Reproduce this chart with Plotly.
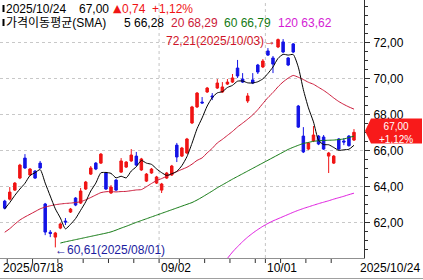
import plotly.graph_objects as go
import pandas as pd

# ---- data -----------------------------------------------------------------
dates = [d.strftime("%Y-%m-%d") for d in pd.bdate_range("2025-07-18", "2025-10-24")
         if d.strftime("%Y-%m-%d") != "2025-09-01"]

opens = [63.18, 63.29, 63.79, 64.46, 65.57, 64.63, 64.85, 65.29, 63.02, 61.45,
         61.18, 61.68, 62.07, 62.57, 63.35, 63.07, 63.85, 64.68, 65.29, 65.29,
         64.74, 63.63, 64.35, 64.79, 65.07, 65.41, 65.68, 64.91, 64.29, 64.74,
         64.18, 63.79, 64.46, 64.63, 66.29, 65.68, 65.85, 67.52, 68.41, 68.68,
         69.24, 69.02, 69.46, 69.24, 69.68, 69.79, 70.57, 69.96, 68.74, 69.91,
         70.74, 70.63, 71.52, 71.13, 71.74, 72.02, 71.13, 71.91, 68.46, 66.79,
         66.07, 66.52, 66.79, 66.74, 65.68, 65.29, 66.63, 66.52, 66.79, 66.57]
highs = [63.25, 63.96, 64.24, 65.25, 65.79, 65.02, 64.90, 65.41, 63.08, 61.57,
         61.47, 61.98, 62.24, 62.80, 63.40, 63.91, 64.30, 65.13, 65.35, 65.85,
         64.80, 64.07, 64.40, 65.57, 65.40, 66.07, 65.91, 65.58, 64.74, 65.02,
         64.58, 64.19, 64.80, 65.19, 66.41, 66.19, 66.69, 68.47, 69.24, 68.96,
         69.52, 69.18, 69.96, 69.79, 69.96, 70.24, 71.02, 70.29, 69.18, 70.29,
         70.80, 71.07, 71.68, 71.24, 72.21, 72.18, 71.18, 71.96, 68.52, 67.29,
         66.46, 67.35, 66.85, 66.85, 65.91, 65.74, 66.68, 66.68, 66.85, 67.18]
lows = [62.72, 63.22, 63.74, 64.40, 64.97, 64.58, 64.41, 64.97, 61.29, 61.18,
        60.61, 61.62, 61.85, 62.52, 62.90, 63.02, 63.80, 64.63, 64.90, 65.24,
        63.80, 63.58, 63.74, 64.74, 65.02, 65.36, 65.12, 64.86, 64.24, 64.70,
        64.13, 63.63, 64.41, 64.58, 65.35, 65.63, 65.80, 67.46, 68.35, 68.60,
        69.19, 68.79, 69.41, 69.19, 69.63, 69.74, 70.02, 69.74, 68.63, 69.68,
        70.24, 70.57, 71.24, 70.29, 71.68, 71.40, 70.68, 71.40, 67.24, 65.85,
        66.02, 66.46, 66.29, 66.02, 64.74, 65.24, 66.02, 66.29, 66.20, 66.52]
closes = [62.79, 63.68, 64.18, 65.18, 65.02, 64.96, 64.46, 65.02, 61.46, 61.38,
          61.41, 61.91, 62.02, 62.74, 62.96, 63.74, 64.24, 65.02, 64.96, 65.79,
          63.85, 63.96, 63.79, 65.41, 65.35, 65.74, 65.18, 65.52, 64.68, 64.96,
          64.52, 64.13, 64.74, 65.13, 65.63, 66.13, 66.63, 68.41, 69.18, 68.63,
          69.46, 68.96, 69.74, 69.52, 69.79, 70.02, 70.13, 69.79, 69.02, 69.74,
          70.35, 70.96, 71.29, 70.79, 72.15, 71.46, 70.74, 71.46, 67.29, 65.91,
          66.41, 66.85, 66.35, 66.07, 65.85, 65.68, 66.07, 66.46, 66.26, 67.00]

sma5 = [62.75, 63.10, 63.50, 63.85, 64.17, 64.60, 64.76, 64.93, 64.18, 63.46,
        62.75, 62.24, 61.64, 61.89, 62.21, 62.67, 63.14, 63.74, 64.18, 64.75,
        64.77, 64.72, 64.47, 64.56, 64.47, 64.85, 65.09, 65.44, 65.29, 65.22,
        64.97, 64.76, 64.61, 64.70, 64.83, 65.15, 65.65, 66.39, 67.20, 67.80,
        68.46, 68.93, 69.19, 69.26, 69.49, 69.61, 69.84, 69.85, 69.75, 69.74,
        69.81, 69.97, 70.27, 70.63, 71.11, 71.33, 71.29, 71.32, 70.62, 69.37,
        68.36, 67.58, 66.56, 66.32, 66.31, 66.16, 66.00, 66.03, 66.06, 66.28]
sma20 = [61.45, 61.65, 61.90, 62.13, 62.30, 62.45, 62.60, 62.75, 62.85, 62.92,
         62.98, 63.02, 63.05, 63.07, 63.10, 63.15, 63.25, 63.38, 63.52, 63.65,
         63.70, 63.71, 63.69, 63.71, 63.72, 63.76, 63.80, 63.82, 63.98, 64.16,
         64.32, 64.43, 64.56, 64.68, 64.82, 64.94, 65.06, 65.23, 65.44, 65.58,
         65.86, 66.11, 66.41, 66.61, 66.83, 67.05, 67.30, 67.51, 67.73, 67.97,
         68.26, 68.60, 68.93, 69.21, 69.53, 69.80, 70.01, 70.16, 70.06, 69.93,
         69.78, 69.67, 69.50, 69.33, 69.13, 68.91, 68.71, 68.55, 68.41, 68.29]
sma60_start = 11
sma60 = [60.85, 60.92, 60.98, 61.04, 61.10, 61.16, 61.22, 61.28, 61.34, 61.40,
         61.47, 61.57, 61.68, 61.78, 61.89, 62.00, 62.10, 62.20, 62.30, 62.40,
         62.50, 62.60, 62.70, 62.80, 62.90, 63.00, 63.10, 63.24, 63.40, 63.57,
         63.74, 63.92, 64.08, 64.24, 64.40, 64.55, 64.70, 64.85, 65.00, 65.15,
         65.30, 65.45, 65.60, 65.75, 65.90, 66.05, 66.17, 66.28, 66.38, 66.44,
         66.50, 66.53, 66.55, 66.56, 66.57, 66.60, 66.63, 66.71, 66.79]
sma120_start = 44
sma120 = [60.00, 60.35, 60.65, 60.93, 61.18, 61.40, 61.60, 61.78, 61.94, 62.08,
          62.20, 62.32, 62.44, 62.56, 62.67, 62.77, 62.86, 62.95, 63.04, 63.12,
          63.20, 63.29, 63.37, 63.45, 63.54, 63.62]

x_labels = ["2025/07/18", "09/02", "10/01", "2025/10/24"]
y_ticks = [62, 64, 66, 68, 70, 72]

# ---- geometry helpers (pixel -> paper) ------------------------------------
PW, PH = 364, 258
def px(x):
    return x / PW
def py(y):
    return 1 - y / PH

FONT = "Liberation Sans, Noto Sans CJK KR, sans-serif"
RED, BLUE = "#f01414", "#1414e6"

fig = go.Figure()
fig.add_trace(go.Candlestick(
    x=dates, open=opens, high=highs, low=lows, close=closes,
    increasing=dict(line=dict(color=RED, width=1), fillcolor=RED),
    decreasing=dict(line=dict(color=BLUE, width=1), fillcolor=BLUE),
    whiskerwidth=0, showlegend=False, hoverinfo="skip"))

def ma(xs, ys, color):
    fig.add_trace(go.Scatter(x=xs, y=ys, mode="lines",
                             line=dict(color=color, width=1, shape="spline", smoothing=0.6),
                             showlegend=False, hoverinfo="skip"))

ma(dates[sma120_start:], sma120, "#e01ee0")
ma(dates[sma60_start:], sma60, "#137a13")
ma(dates, sma20, "#cc1a3a")
ma(dates, sma5, "#000000")

shapes = []
# vertical dashed grid lines at the labelled dates (slot boundary)
for d in ["2025-09-02", "2025-10-01"]:
    i = dates.index(d) - 0.5
    shapes.append(dict(type="line", xref="x", yref="paper", x0=i, x1=i, y0=0, y1=1,
                       line=dict(color="#c4c4c4", width=1, dash="3px,3px"), layer="below"))
# weekly x ticks
for i, d in enumerate(dates):
    if i > 0 and pd.Timestamp(d).weekday() < pd.Timestamp(dates[i - 1]).weekday() or d == "2025-10-01":
        shapes.append(dict(type="line", xref="x", yref="paper", x0=i - 0.5, x1=i - 0.5,
                           y0=py(259), y1=py(263), line=dict(color="#303030", width=1)))
# header bars
for yc in (8.5, 22.5):
    shapes.append(dict(type="rect", xref="paper", yref="paper", x0=px(2.5), x1=px(4.5),
                       y0=py(yc - 3.5), y1=py(yc + 3.5), fillcolor="#000", line=dict(width=0)))
# price tag
pts = [(365, 131), (371, 118.5), (422, 118.5), (422, 143.5), (371, 143.5)]
path = "M " + " L ".join(f"{px(a):.5f},{py(b):.5f}" for a, b in pts) + " Z"
shapes.append(dict(type="path", xref="paper", yref="paper", path=path,
                   fillcolor="#f81a1a", line=dict(width=0)))
# bottom frame line
shapes.append(dict(type="line", xref="paper", yref="paper", x0=0, x1=px(423),
                   y0=py(278.5), y1=py(278.5), line=dict(color="#a0a0a0", width=1)))

ann = []
def txt(s, x, y, color="#000", anchor="left", size=12, family=FONT):
    ann.append(dict(text=s, x=px(x), y=py(y), xref="paper", yref="paper", showarrow=False,
                    xanchor=anchor, yanchor="middle", font=dict(family=family, size=size, color=color),
                    borderpad=0))

txt("2025/10/24", 5, 8.5)
txt("67,00", 78, 8.5)
txt("▲", 112, 8.5, "#f01414", size=11, family="DejaVu Sans")
txt("0,74", 121, 8.5, "#f01414")
txt("+1,12%", 151, 8.5, "#f01414")
txt("가격이동평균(SMA)", 5, 22.5)
txt("5 66,28", 123, 22.5)
txt("20 68,29", 170, 22.5, "#cc1a3a")
txt("60 66,79", 223, 22.5, "#137a13")
txt("120 63,62", 277, 22.5, "#d41cd4")

txt("72,21(2025/10/03)→", 277, 40.5, "#d01428", "right")
txt("←60,61(2025/08/01)", 54, 250, "#1c1ca0")

txt(x_labels[0], 2, 268)
txt(x_labels[1], 159.5, 268)
txt(x_labels[2], 266, 268)
txt(x_labels[3], 421, 268, anchor="right")

txt("67,00<br>+1,12%", 396, 133, "#ffffff", "center", size=10)

fig.update_layout(
    width=423, height=280, margin=dict(l=0, r=59, t=0, b=22),
    paper_bgcolor="white", plot_bgcolor="white",
    separators=",.", shapes=shapes, annotations=ann,
    font=dict(family=FONT, size=12, color="#000"),
    xaxis=dict(type="category", range=[-0.93, 70.98], showgrid=False, showticklabels=False,
               ticks="", showline=True, linecolor="#909090", linewidth=1,
               rangeslider=dict(visible=False), zeroline=False, fixedrange=True),
    yaxis=dict(side="right", range=[60.02, 74.35], tickmode="array", tickvals=y_ticks,
               tickformat=".2f", ticks="outside", ticklen=5, tickcolor="#303030",
               showline=True, linecolor="#303030", linewidth=1,
               showgrid=True, gridcolor="#c8c8c8", griddash="3px,3px", zeroline=False,
               minor=dict(tickmode="linear", tick0=0, dtick=0.5, ticks="outside", ticklen=3,
                          tickcolor="#303030", showgrid=False),
               tickfont=dict(family=FONT, size=12, color="#000"), ticklabelstandoff=1),
)

fig.write_html("out.html")
